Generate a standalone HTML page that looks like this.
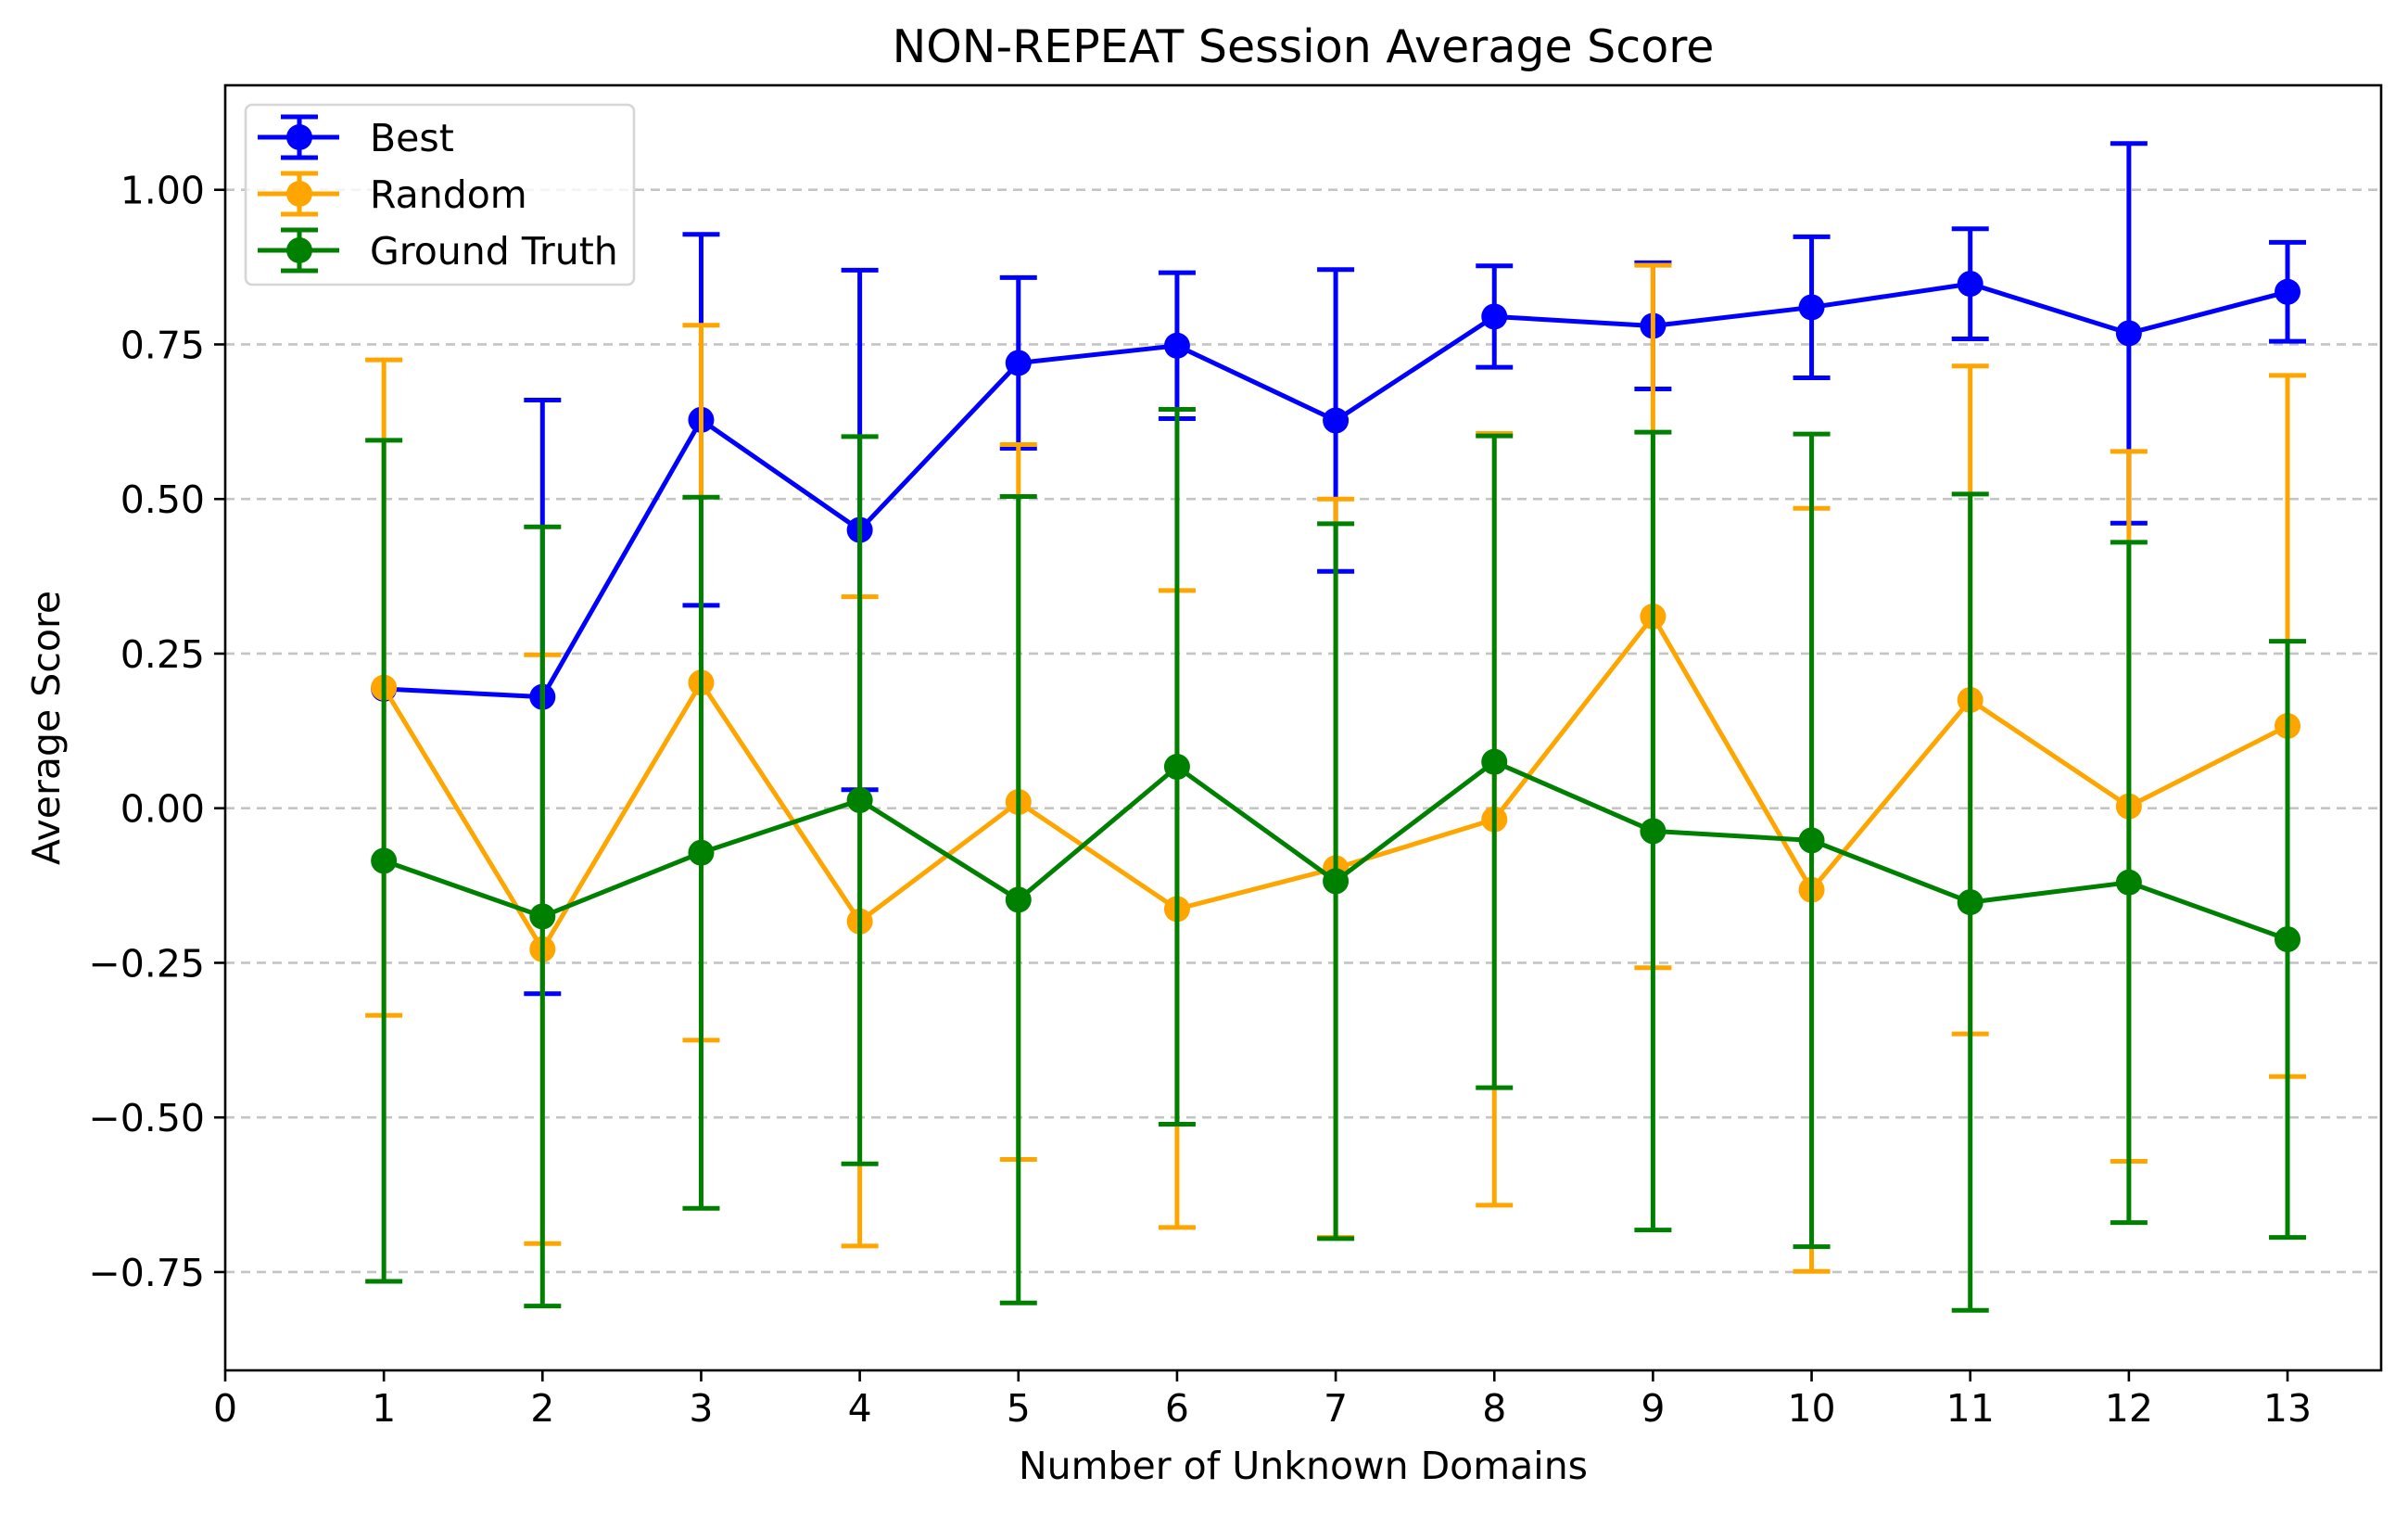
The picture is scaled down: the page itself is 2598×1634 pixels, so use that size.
<!DOCTYPE html>
<html><head><meta charset="utf-8"><style>
html,body{margin:0;padding:0;background:#fff;}
svg{display:block;font-family:"DejaVu Sans","Liberation Sans",sans-serif;}
</style></head><body>
<svg id="chart" width="2598" height="1634" viewBox="0 0 2598 1634" xmlns="http://www.w3.org/2000/svg">
<rect width="2598" height="1634" fill="#fff"/>
<g id="grid"></g>
<g id="series"></g>
<g id="axes"></g>
<text x="1406" y="67" font-size="49" text-anchor="middle">NON-REPEAT Session Average Score</text>
<text x="1406" y="1595" font-size="41" text-anchor="middle">Number of Unknown Domains</text>
<text x="64" y="785" font-size="41" text-anchor="middle" transform="rotate(-90 64 785)">Average Score</text>
<g id="legend"></g>
</svg>
<script>
const categories = [1,2,3,4,5,6,7,8,9,10,11,12,13];
const bestMean = [0.193,0.18,0.628,0.45,0.72,0.748,0.627,0.795,0.78,0.81,0.848,0.768,0.835];
const bestErr = [0,0.48,0.30,0.42,0.138,0.118,0.244,0.082,0.102,0.114,0.089,0.307,0.08];
const randomMean = [0.195,-0.228,0.203,-0.183,0.01,-0.163,-0.097,-0.018,0.31,-0.132,0.175,0.003,0.133];
const randomErr = [0.53,0.476,0.578,0.525,0.578,0.515,0.597,0.624,0.568,0.617,0.54,0.574,0.567];
const truthMean = [-0.085,-0.175,-0.072,0.013,-0.148,0.067,-0.118,0.075,-0.037,-0.052,-0.152,-0.12,-0.212];
const truthErr = [0.68,0.63,0.575,0.588,0.652,0.578,0.578,0.527,0.645,0.657,0.66,0.55,0.482];
const xTicks = [0,1,2,3,4,5,6,7,8,9,10,11,12,13];
const yTicks = [-0.75,-0.5,-0.25,0,0.25,0.5,0.75,1.0];
const yTickLabels = ["\u22120.75","\u22120.50","\u22120.25","0.00","0.25","0.50","0.75","1.00"];
const seriesNames = ["Best","Random","Ground Truth"];

const L=243,R=2569,T=92,B=1478;
const xMin=0,xMax=13.59,yMin=-0.909,yMax=1.169;
const xs=v=>L+(v-xMin)/(xMax-xMin)*(R-L);
const ys=v=>B-(v-yMin)/(yMax-yMin)*(B-T);
const NS="http://www.w3.org/2000/svg";
function mk(tag,attrs,parent){const e=document.createElementNS(NS,tag);for(const k in attrs)e.setAttribute(k,attrs[k]);parent.appendChild(e);return e;}
const grid=document.getElementById('grid'),axes=document.getElementById('axes'),series=document.getElementById('series'),legend=document.getElementById('legend');
const LW=5;

yTicks.forEach((v,i)=>{
  const g=mk('line',{x1:L,x2:R,y1:ys(v),y2:ys(v),stroke:'#c4c4c4','stroke-width':2.6,'stroke-dasharray':'10 7'},grid);
  
  
  const t=mk('line',{x1:L-12,x2:L,y1:ys(v),y2:ys(v),stroke:'#000','stroke-width':2.6},axes);
  
  
  const tx=mk('text',{x:L-22,y:ys(v)+15,'font-size':41,'text-anchor':'end'},axes);
  tx.textContent=yTickLabels[i];
  
  
});
xTicks.forEach(v=>{
  const t=mk('line',{x1:xs(v),x2:xs(v),y1:B,y2:B+12,stroke:'#000','stroke-width':2.6},axes);
  
  
  const tx=mk('text',{x:xs(v),y:B+55,'font-size':41,'text-anchor':'middle'},axes);
  tx.textContent=String(v);
  
  
});
const frame=mk('rect',{x:L,y:T,width:R-L,height:B-T,fill:'none',stroke:'#000','stroke-width':2.6},axes);



function drawSeries(name,means,errs,color){
  const g=mk('g',{},series);
  
  
  const pts=categories.map((c,i)=>xs(c)+','+ys(means[i])).join(' ');
  const pl=mk('polyline',{points:pts,fill:'none',stroke:color,'stroke-width':LW,'stroke-linejoin':'round'},g);
  
  
  categories.forEach((c,i)=>{
    const x=xs(c),y1=ys(means[i]+errs[i]),y2=ys(means[i]-errs[i]);
    if(errs[i]>0){
      const e=mk('path',{d:`M${x},${y1}V${y2}M${x-20},${y1}H${x+20}M${x-20},${y2}H${x+20}`,stroke:color,'stroke-width':LW,fill:'none'},g);
      
      
    }
  });
  categories.forEach((c,i)=>{
    const p=mk('circle',{cx:xs(c),cy:ys(means[i]),r:14,fill:color},g);
    
    
  });
}
const colors=['#0000ff','#ffa500','#008000'];
drawSeries(seriesNames[0],bestMean,bestErr,colors[0]);
drawSeries(seriesNames[1],randomMean,randomErr,colors[1]);
drawSeries(seriesNames[2],truthMean,truthErr,colors[2]);

const lb=mk('rect',{x:265,y:113,width:419,height:194,rx:7,fill:'#fff','fill-opacity':0.8,stroke:'#d6d6d6','stroke-width':2.6},legend);


[148,209,270].forEach((y,i)=>{
  const g=mk('g',{},legend);
  
  
  const c=colors[i];
  mk('path',{d:`M278,${y}H366M323,${y-22}V${y+22}M303,${y-22}H343M303,${y+22}H343`,stroke:c,'stroke-width':LW,fill:'none'},g);
  mk('circle',{cx:323,cy:y,r:14,fill:c},g);
  const t=mk('text',{x:399,y:y+15,'font-size':41},g);
  t.textContent=seriesNames[i];
});
</script>
</body></html>
